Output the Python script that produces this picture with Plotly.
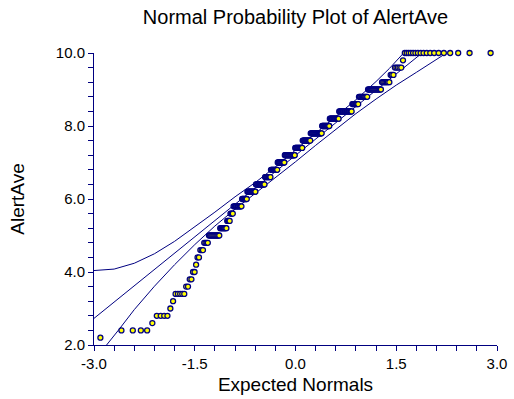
import plotly.graph_objects as go
from statistics import NormalDist

# ---- data ----
levels = [2.2, 2.4, 2.6, 2.8, 3.0, 3.2, 3.4, 3.6, 3.8, 4.0, 4.2, 4.4, 4.6, 4.8,
          5.0, 5.2, 5.4, 5.6, 5.8, 6.0, 6.2, 6.4, 6.6, 6.8, 7.0, 7.2, 7.4, 7.6,
          7.8, 8.0, 8.2, 8.4, 8.6, 8.8, 9.0, 9.2, 9.4, 9.6, 9.8, 10.0]
counts = [1, 4, 1, 4, 1, 1, 5, 2, 2, 2, 1, 2, 3, 4,
          11, 8, 4, 4, 12, 8, 14, 16, 11, 13, 14, 21, 15, 16,
          22, 14, 16, 20, 9, 11, 14, 7, 3, 5, 1, 18]

# reference line and confidence band curves (expected normal, value)
mid_z = [-3.0, 2.2]
mid_y = [2.73, 10.47]
upper_z = [-3.0, -2.85, -2.7, -2.4, -2.1, -1.8, -1.5, -1.2, -0.9, -0.6, -0.3,
           0.0, 0.3, 0.6, 0.9, 1.2, 1.4, 1.61, 1.8]
upper_y = [4.04, 4.05, 4.08, 4.24, 4.50, 4.84, 5.23, 5.64, 6.06, 6.45, 6.88,
           7.34, 7.79, 8.25, 8.72, 9.22, 9.58, 10.0, 10.45]
lower_z = [-2.9, -2.826, -2.63, -2.4, -2.1, -1.8, -1.5, -1.2, -0.9, -0.6, -0.3,
           0.0, 0.3, 0.6, 0.9, 1.2, 1.5, 1.8, 2.0, 2.21, 2.4]
lower_y = [1.75, 1.97, 2.42, 2.97, 3.61, 4.20, 4.75, 5.26, 5.72, 6.15, 6.58,
           7.02, 7.47, 7.91, 8.34, 8.74, 9.12, 9.47, 9.71, 9.96, 10.18]

x_ticks = [-3.0, -1.5, 0.0, 1.5, 3.0]
x_labels = ["-3.0", "-1.5", "0.0", "1.5", "3.0"]
y_ticks = [2.0, 4.0, 6.0, 8.0, 10.0]
y_labels = ["2.0", "4.0", "6.0", "8.0", "10.0"]

# sorted observations and their expected normal scores (Blom positions)
values = []
for v, c in zip(levels, counts):
    values += [v] * c
n = len(values)
nd = NormalDist()
expected = [nd.inv_cdf((i - 0.375) / (n + 0.25)) for i in range(1, n + 1)]

NAVY = "#000080"
FONT = "Liberation Sans, Arial, sans-serif"

fig = go.Figure()
for zs, ys in [(upper_z, upper_y), (mid_z, mid_y), (lower_z, lower_y)]:
    fig.add_trace(go.Scatter(x=zs, y=ys, mode="lines",
                             line=dict(color=NAVY, width=1),
                             hoverinfo="skip", showlegend=False))
fig.add_trace(go.Scatter(x=expected, y=values, mode="markers",
                         marker=dict(size=5, color="#FFFF00",
                                     line=dict(color=NAVY, width=1.3)),
                         cliponaxis=False, showlegend=False))

fig.update_layout(
    width=514, height=399,
    margin=dict(l=94, r=17, t=53, b=54, autoexpand=False),
    paper_bgcolor="white", plot_bgcolor="white",
    font=dict(family=FONT, color="black"),
    title=dict(text="Normal Probability Plot of AlertAve",
               font=dict(size=20, family=FONT, color="black"),
               x=0.5, xref="paper", xanchor="center",
               y=1 - 17 / 399, yref="container", yanchor="middle"),
    xaxis=dict(range=[-3, 3], tickmode="array", tickvals=x_ticks,
               ticktext=x_labels, ticks="outside", ticklen=5, tickwidth=1,
               tickcolor=NAVY, showline=True, linecolor=NAVY, linewidth=1,
               showgrid=False, zeroline=False, automargin=False,
               tickfont=dict(size=15, family=FONT, color="black"),
               minor=dict(tickmode="linear", tick0=-3, dtick=0.3,
                          ticks="outside", ticklen=5, tickcolor=NAVY,
                          showgrid=False),
               title=dict(text="Expected Normals",
                          font=dict(size=19, family=FONT, color="black"),
                          standoff=6)),
    yaxis=dict(range=[2, 10], tickmode="array", tickvals=y_ticks,
               ticktext=y_labels, ticks="outside", ticklen=5, tickwidth=1,
               tickcolor=NAVY, showline=True, linecolor=NAVY, linewidth=1,
               showgrid=False, zeroline=False, automargin=False,
               tickfont=dict(size=15, family=FONT, color="black"),
               minor=dict(tickmode="linear", tick0=2, dtick=0.4,
                          ticks="outside", ticklen=5, tickcolor=NAVY,
                          showgrid=False),
               title=dict(text="AlertAve",
                          font=dict(size=19, family=FONT, color="black"),
                          standoff=26)),
)

fig.write_html("out.html",
               config={"displayModeBar": False},
               post_script="document.body.style.margin='0';"
                           "document.body.style.padding='0';")
